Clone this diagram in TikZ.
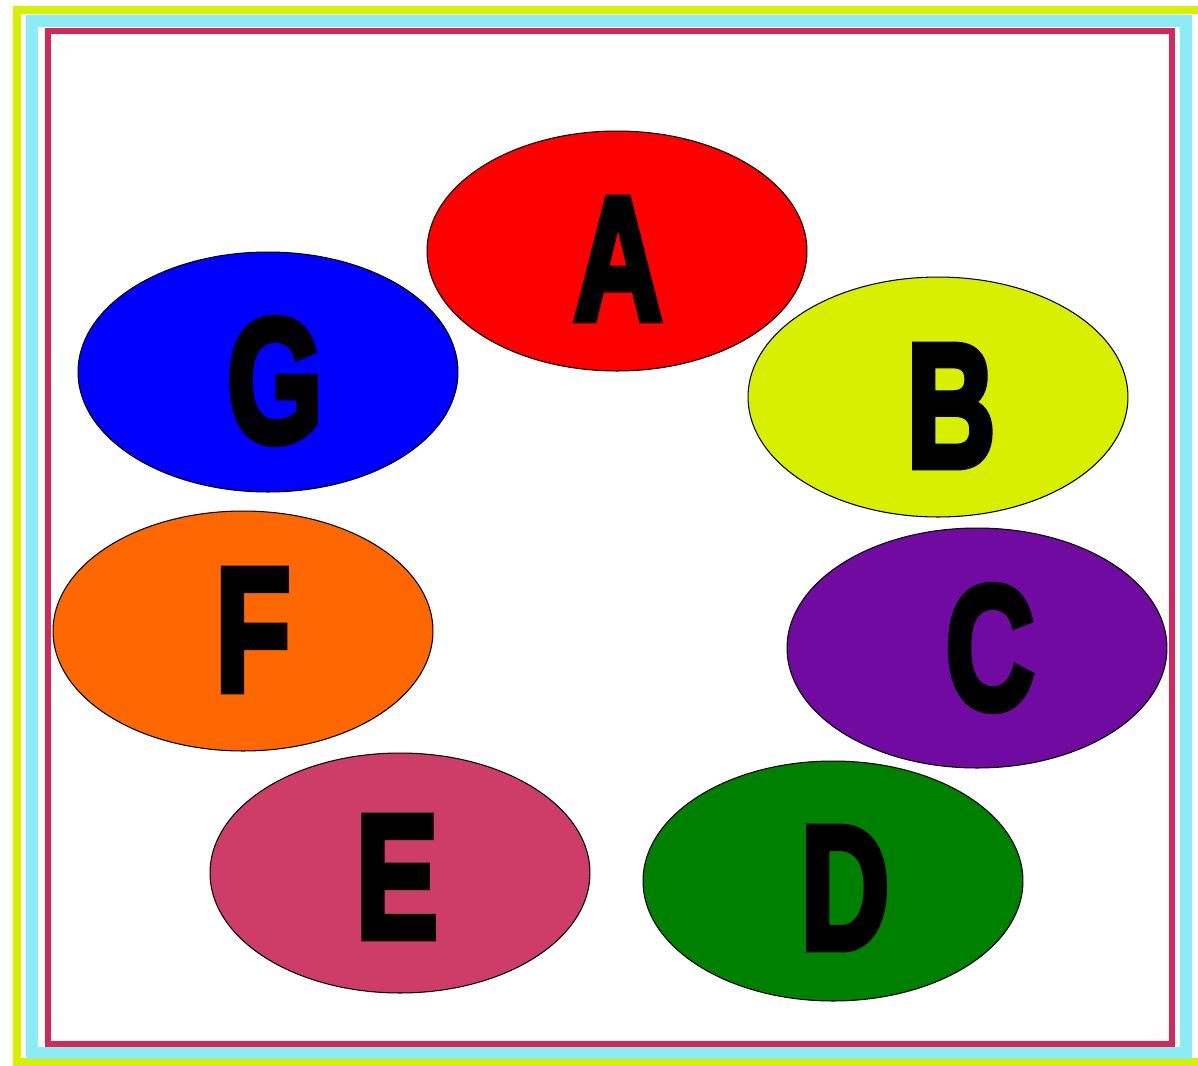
\documentclass[tikz,border=0pt]{standalone}
\usepackage{fontspec}
\setmainfont{Liberation Sans}[BoldFeatures={FakeBold=4.5}]
\usetikzlibrary{shapes.geometric}
\definecolor{bordyellow}{RGB}{214,240,0}
\definecolor{bordcyan}{RGB}{140,236,246}
\definecolor{bordred}{RGB}{210,40,90}
\definecolor{cA}{RGB}{255,0,0}
\definecolor{cB}{RGB}{214,240,0}
\definecolor{cC}{RGB}{112,10,160}
\definecolor{cD}{RGB}{0,128,0}
\definecolor{cE}{RGB}{206,60,104}
\definecolor{cF}{RGB}{255,104,0}
\definecolor{cG}{RGB}{0,0,255}
\tikzset{
  oval/.style={ellipse, draw=black, line width=0.6pt, inner sep=0pt,
    minimum width=7.6cm, minimum height=4.8cm},
  letter/.style={inner sep=0pt, text=black,
    font=\fontsize{100}{100}\selectfont\bfseries},
}
\newcommand{\bigletter}[1]{\scalebox{0.7}[1]{#1}}
\begin{document}
\begin{tikzpicture}[x=0.02cm, y=-0.02cm]
\useasboundingbox (0,0) rectangle (1198,1066);
\fill[white] (0,0) rectangle (1198,1066);
% frames
\draw[bordyellow, line width=8*0.02cm] (17,10) rectangle (1210,1062);
\draw[bordcyan, line width=12*0.02cm] (32,21) rectangle (1186,1053);
\draw[bordred, line width=6*0.02cm] (48,31) rectangle (1172,1044);
% ovals
\node[oval, fill=cA] (A) at (617,251) {};
\node[oval, fill=cB] (B) at (938,397) {};
\node[oval, fill=cC] (C) at (977,648) {};
\node[oval, fill=cD] (D) at (833,881) {};
\node[oval, fill=cE] (E) at (400,873) {};
\node[oval, fill=cF] (F) at (243,631) {};
\node[oval, fill=cG] (G) at (268,372) {};
% letters
\node[letter] (lA) at (618,259) {\bigletter{A}};
\node[letter] (lB) at (951,406) {\bigletter{B}};
\node[letter] (lC) at (990,648) {\bigletter{C}};
\node[letter] (lD) at (845,888) {\bigletter{D}};
\node[letter] (lE) at (397,877) {\bigletter{E}};
\node[letter] (lF) at (253,630) {\bigletter{F}};
\node[letter] (lG) at (275,381) {\bigletter{G}};
\end{tikzpicture}
\end{document}
